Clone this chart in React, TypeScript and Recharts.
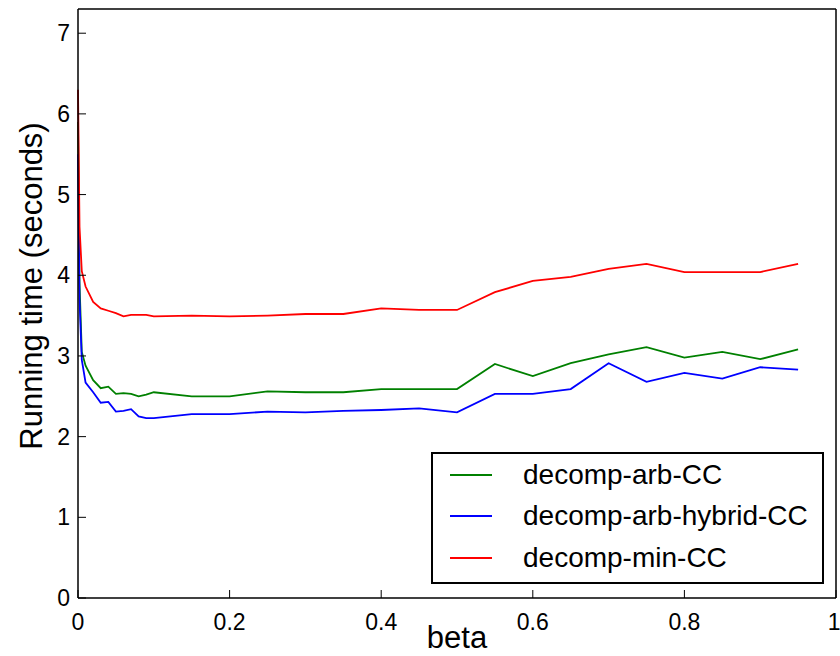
import { LineChart, Line, XAxis, YAxis, Legend, Label } from 'recharts';

// beta values along the x axis
const betas = [
  0, 0.002, 0.005, 0.01, 0.02, 0.03, 0.04, 0.05, 0.06, 0.07, 0.08, 0.09, 0.1,
  0.15, 0.2, 0.25, 0.3, 0.35, 0.4, 0.45, 0.5, 0.55, 0.6, 0.65, 0.7, 0.75, 0.8,
  0.85, 0.9, 0.95,
];

// running times in seconds
const arbCC = [
  5.9, 3.9, 3.05, 2.88, 2.7, 2.6, 2.62, 2.53, 2.54, 2.53, 2.5, 2.52, 2.55,
  2.5, 2.5, 2.56, 2.55, 2.55, 2.59, 2.59, 2.59, 2.9, 2.75, 2.91, 3.02, 3.11,
  2.98, 3.05, 2.96, 3.08,
];
const arbHybridCC = [
  5.5, 3.7, 2.95, 2.67, 2.55, 2.42, 2.43, 2.31, 2.32, 2.34, 2.25, 2.23, 2.23,
  2.28, 2.28, 2.31, 2.3, 2.32, 2.33, 2.35, 2.3, 2.53, 2.53, 2.59, 2.91, 2.68,
  2.79, 2.72, 2.86, 2.83,
];
const minCC = [
  6.3, 4.6, 4.05, 3.86, 3.67, 3.59, 3.56, 3.53, 3.49, 3.51, 3.51, 3.51, 3.49,
  3.5, 3.49, 3.5, 3.52, 3.52, 3.59, 3.57, 3.57, 3.79, 3.93, 3.98, 4.08, 4.14,
  4.04, 4.04, 4.04, 4.14,
];

const xTicks = [0, 0.2, 0.4, 0.6, 0.8, 1];
const yTicks = [0, 1, 2, 3, 4, 5, 6, 7];

const FONT = '"Liberation Sans", Arial, Helvetica, sans-serif';

const data = betas.map((b, i) => ({
  beta: b,
  arb: arbCC[i],
  hybrid: arbHybridCC[i],
  min: minCC[i],
}));

function LegendBox(props: any) {
  const { payload } = props;
  return (
    <div
      style={{
        boxSizing: 'border-box',
        width: 393,
        height: 132,
        border: '2px solid #000',
        background: '#fff',
        fontFamily: FONT,
        fontSize: 28,
        color: '#000',
      }}
    >
      {(payload || []).map((entry: any) => (
        <div
          key={entry.value}
          style={{ display: 'flex', alignItems: 'center', height: 41.5 }}
        >
          <div
            style={{
              marginLeft: 17,
              width: 42,
              height: 2,
              background: entry.color,
            }}
          />
          <span style={{ marginLeft: 31 }}>{entry.value}</span>
        </div>
      ))}
    </div>
  );
}

export default function App() {
  return (
    <div style={{ position: 'absolute', left: 0, top: 0, background: '#fff' }}>
      <LineChart
        width={840}
        height={656}
        data={data}
        margin={{ top: 8, right: 3, left: 0, bottom: 0 }}
      >
        <XAxis
          dataKey="beta"
          type="number"
          domain={[0, 1]}
          ticks={xTicks}
          height={58}
          axisLine={{ stroke: '#000', strokeWidth: 1.5 }}
          tickLine={{ stroke: '#000' }}
          tickSize={-8}
          tickMargin={24}
          tick={{ fill: '#000', fontSize: 23, fontFamily: FONT }}
        >
          <Label
            content={() => (
              <text
                x={457}
                y={648}
                textAnchor="middle"
                fontSize={31}
                fontFamily={FONT}
                fill="#000"
              >
                beta
              </text>
            )}
          />
        </XAxis>
        <XAxis
          xAxisId="top"
          orientation="top"
          type="number"
          domain={[0, 1]}
          ticks={xTicks}
          height={1}
          axisLine={{ stroke: '#000', strokeWidth: 1.5 }}
          tickLine={{ stroke: '#000' }}
          tickSize={-8}
          tick={false}
        />
        <YAxis
          type="number"
          domain={[0, 7.3]}
          ticks={yTicks}
          allowDataOverflow
          width={78}
          axisLine={{ stroke: '#000', strokeWidth: 1.5 }}
          tickLine={{ stroke: '#000' }}
          tickSize={-8}
          tickMargin={16}
          tick={{ fill: '#000', fontSize: 23, fontFamily: FONT }}
        >
          <Label
            content={() => (
              <text
                x={0}
                y={0}
                transform="translate(42, 286) rotate(-90)"
                textAnchor="middle"
                fontSize={31}
                fontFamily={FONT}
                fill="#000"
              >
                Running time (seconds)
              </text>
            )}
          />
        </YAxis>
        <YAxis
          yAxisId="right"
          orientation="right"
          type="number"
          domain={[0, 7.3]}
          ticks={yTicks}
          width={1}
          axisLine={{ stroke: '#000', strokeWidth: 1.5 }}
          tickLine={{ stroke: '#000' }}
          tickSize={-8}
          tick={false}
        />
        <Legend
          layout="vertical"
          align="center"
          verticalAlign="middle"
          wrapperStyle={{ left: 431, top: 452, width: 393, height: 132 }}
          content={<LegendBox />}
        />
        <Line
          type="linear"
          dataKey="arb"
          name="decomp-arb-CC"
          stroke="#008000"
          strokeWidth={1.8}
          dot={false}
          isAnimationActive={false}
        />
        <Line
          type="linear"
          dataKey="hybrid"
          name="decomp-arb-hybrid-CC"
          stroke="#0000ff"
          strokeWidth={1.8}
          dot={false}
          isAnimationActive={false}
        />
        <Line
          type="linear"
          dataKey="min"
          name="decomp-min-CC"
          stroke="#ff0000"
          strokeWidth={1.8}
          dot={false}
          isAnimationActive={false}
        />
      </LineChart>
    </div>
  );
}
